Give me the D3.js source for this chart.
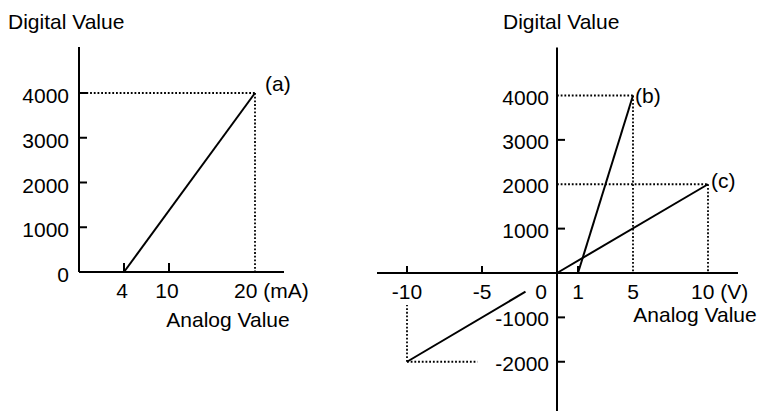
<!DOCTYPE html>
<html>
<head>
<meta charset="utf-8">
<script src="https://cdn.jsdelivr.net/npm/d3@7"></script>
<style>
  body { margin: 0; background: #fff; }
  svg text { font-family: "Liberation Sans", Arial, sans-serif; font-size: 21px; fill: #000; }
</style>
</head>
<body>
<svg id="chart" width="761" height="411"></svg>
<script>
// left panel: current input (mA)
const leftYTicks = [1000, 2000, 3000, 4000];
const leftYLabels = [0, 1000, 2000, 3000, 4000];
const leftXTicks = [4, 10];
const leftXLabels = [4, 10, 20];
const leftUnit = "(mA)";
const lineA = [[4, 0], [20, 4000]];
const guidesA = [
  [[0, 4000], [20, 4000]],
  [[20, 4000], [20, 0]]
];

// right panel: voltage input (V)
const rightYTicks = [-2000, -1000, 1000, 3000];
const rightYLabels = [-2000, -1000, 1000, 2000, 3000, 4000];
const rightXTicks = [-10, -5, 1];
const rightXLabels = [-10, -5, 1, 5, 10];
const rightUnit = "(V)";
const lineB = [[1, 0], [5, 4000]];
const lineC = [[0, 0], [10, 2000]];
const lineCneg = [[-10, -2000], [-2.1, -420]];
const guidesBC = [
  [[0, 4000], [5, 4000]],
  [[5, 4000], [5, 0]],
  [[0, 2000], [10, 2000]],
  [[10, 2000], [10, 0]],
  [[-10, -2000], [-10, -720]],
  [[-10, -2000], [-5.3, -2000]]
];

const svg = d3.select("#chart");

// schematic (hand drawn) axes, so the x scales are piecewise
const xA = d3.scaleLinear().domain([0, 4, 10, 20, 23.4]).range([79, 124, 169, 255, 284]);
const yA = d3.scaleLinear().domain([0, 4000]).range([272, 93]);
const xB = d3.scaleLinear().domain([-12, 0, 1, 5, 12]).range([377, 557, 578, 633, 738]);
const yB = d3.scaleLinear().domain([0, 4000]).range([273, 95.5]);

const line = d3.line();

function panel(g, x, y, opt) {
  // axes
  g.append("line")
    .attr("x1", x(0)).attr("x2", x(0))
    .attr("y1", y(opt.yTop)).attr("y2", y(opt.yBottom))
    .attr("stroke", "#000").attr("stroke-width", 2);
  g.append("line")
    .attr("x1", x(opt.xLeft)).attr("x2", x(opt.xRight))
    .attr("y1", y(0)).attr("y2", y(0))
    .attr("stroke", "#000").attr("stroke-width", 2);

  // tick marks
  g.selectAll(".yt").data(opt.yTicks).enter().append("line")
    .attr("x1", x(0)).attr("x2", x(0) + 8)
    .attr("y1", d => y(d)).attr("y2", d => y(d))
    .attr("stroke", "#000").attr("stroke-width", 2);
  g.selectAll(".xt").data(opt.xTicks).enter().append("line")
    .attr("x1", d => x(d)).attr("x2", d => x(d))
    .attr("y1", y(0)).attr("y2", y(0) - opt.xTickLen)
    .attr("stroke", "#000").attr("stroke-width", 2);

  // dotted guides
  g.selectAll(".guide").data(opt.guides).enter().append("path")
    .attr("d", d => line(d.map(p => [x(p[0]), y(p[1])])))
    .attr("fill", "none").attr("stroke", "#000")
    .attr("stroke-width", 1.8).attr("stroke-dasharray", "1.8,1.9");

  // transfer lines
  g.selectAll(".series").data(opt.lines).enter().append("path")
    .attr("d", d => line(d.map(p => [x(p[0]), y(p[1])])))
    .attr("fill", "none").attr("stroke", "#000").attr("stroke-width", 2);

  // y labels
  g.selectAll(".yl").data(opt.yLabels).enter().append("text")
    .attr("x", opt.yLabelX)
    .attr("y", d => y(d) + opt.yLabelDy)
    .attr("text-anchor", "end")
    .text(d => d);

  // x labels, last one carries the unit
  const last = opt.xLabels[opt.xLabels.length - 1];
  g.selectAll(".xl").data(opt.xLabels).enter().append("text")
    .attr("x", d => d === last ? x(d) + opt.unitDx : x(d) + opt.xLabelDx)
    .attr("y", y(0) + 26)
    .attr("text-anchor", d => d === last ? "start" : "middle")
    .text(d => d === last ? d + " " + opt.unit : d);

  g.append("text")
    .attr("x", opt.titleX).attr("y", 29)
    .text("Digital Value");
  g.append("text")
    .attr("x", opt.analogX).attr("y", opt.analogY)
    .attr("text-anchor", "middle")
    .text("Analog Value");

  opt.tags.forEach(t => {
    g.append("text")
      .attr("x", x(t.x) + t.dx).attr("y", y(t.y) + t.dy)
      .text(t.text);
  });
}

panel(svg.append("g"), xA, yA, {
  yTop: 5030, yBottom: 0, xLeft: 0, xRight: 23.4,
  yTicks: leftYTicks, xTicks: leftXTicks, xTickLen: 9,
  guides: guidesA, lines: [lineA],
  yLabels: leftYLabels, yLabelX: 69, yLabelDy: 10,
  xLabels: leftXLabels, xLabelDx: -2, unitDx: -21, unit: leftUnit,
  titleX: 8, analogX: 228, analogY: 327,
  tags: [{ text: "(a)", x: 20, y: 4000, dx: 10, dy: -2 }]
});

// the "0" of the right panel sits left of the origin
const right = svg.append("g");
panel(right, xB, yB, {
  yTop: 5080, yBottom: -3120, xLeft: -12, xRight: 12,
  yTicks: rightYTicks, xTicks: rightXTicks, xTickLen: 7,
  guides: guidesBC, lines: [lineB, lineC, lineCneg],
  yLabels: rightYLabels, yLabelX: 549, yLabelDy: 9,
  xLabels: rightXLabels, xLabelDx: 0, unitDx: -17, unit: rightUnit,
  titleX: 503, analogX: 695, analogY: 322,
  tags: [
    { text: "(b)", x: 5, y: 4000, dx: 2, dy: 7 },
    { text: "(c)", x: 10, y: 2000, dx: 3, dy: 4 }
  ]
});
right.append("text")
  .attr("x", xB(0) - 16).attr("y", yB(0) + 26)
  .attr("text-anchor", "middle")
  .text(0);
</script>
</body>
</html>
